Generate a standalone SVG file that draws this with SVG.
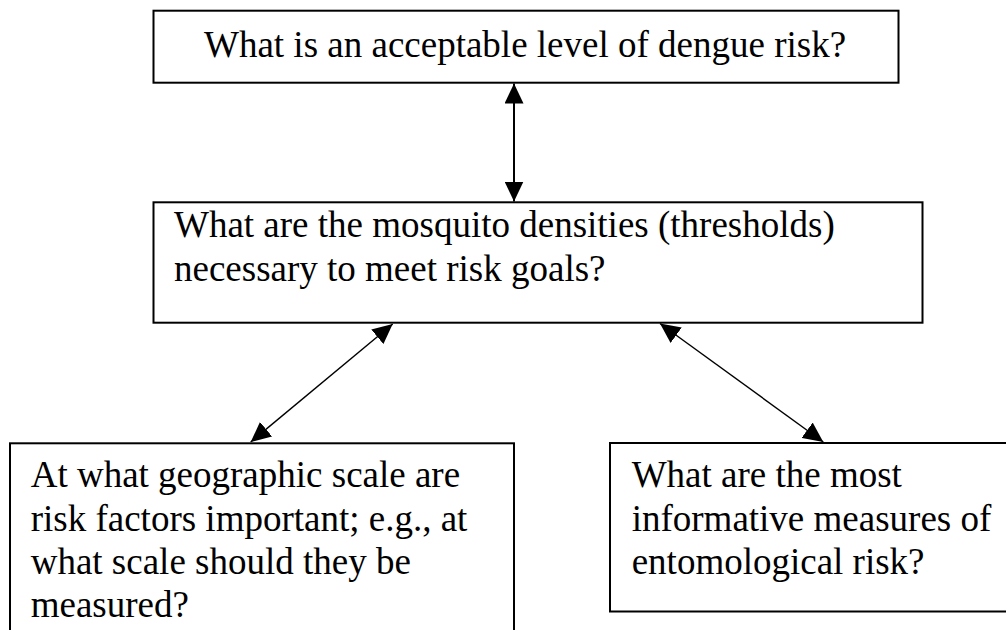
<svg xmlns="http://www.w3.org/2000/svg" width="1006" height="630" viewBox="0 0 1006 630">
  <style>
    .box { fill: #ffffff; stroke: #000000; stroke-width: 2; }
    .lbl { font-family: "Liberation Serif", "Times New Roman", serif; font-size: 37px; fill: #000000; }
    .conn { stroke: #000000; fill: none; }
  </style>
  <defs>
    <marker id="ah" viewBox="0 0 20 19" refX="20" refY="9.5" markerWidth="20" markerHeight="19" markerUnits="userSpaceOnUse" orient="auto-start-reverse">
      <path d="M0,0 L20,9.5 L0,19 z" fill="#000000"/>
    </marker>
  </defs>
  <rect width="1006" height="630" fill="#ffffff"/>

  <g id="connectors">
    <line class="conn" x1="514" y1="83.5" x2="514" y2="201.5" stroke-width="2" marker-start="url(#ah)" marker-end="url(#ah)"/>
    <line class="conn" x1="392.7" y1="324" x2="250.7" y2="442" stroke-width="1.4" marker-start="url(#ah)" marker-end="url(#ah)"/>
    <line class="conn" x1="660" y1="323.5" x2="823.3" y2="442" stroke-width="1.4" marker-start="url(#ah)" marker-end="url(#ah)"/>
  </g>

  <g id="node-risk">
    <rect class="box" x="153.5" y="10.7" width="745" height="72"/>
    <text class="lbl" x="204" y="56.7">What is an acceptable level of dengue risk?</text>
  </g>

  <g id="node-thresholds">
    <rect class="box" x="153.5" y="202.3" width="769" height="120.4"/>
    <text class="lbl" x="174" y="237.3">What are the mosquito densities (thresholds)</text>
    <text class="lbl" x="174" y="280.7">necessary to meet risk goals?</text>
  </g>

  <g id="node-scale">
    <rect class="box" x="10" y="443.3" width="504" height="200"/>
    <text class="lbl" x="30.7" y="487.3">At what geographic scale are</text>
    <text class="lbl" x="30.7" y="530.7">risk factors important; e.g., at</text>
    <text class="lbl" x="30.7" y="574">what scale should they be</text>
    <text class="lbl" x="30.7" y="617.3">measured?</text>
  </g>

  <g id="node-measures">
    <rect class="box" x="610" y="443" width="410" height="168.5"/>
    <text class="lbl" x="631.7" y="487.3">What are the most</text>
    <text class="lbl" x="631.7" y="530.7">informative measures of</text>
    <text class="lbl" x="631.7" y="574">entomological risk?</text>
  </g>
</svg>
